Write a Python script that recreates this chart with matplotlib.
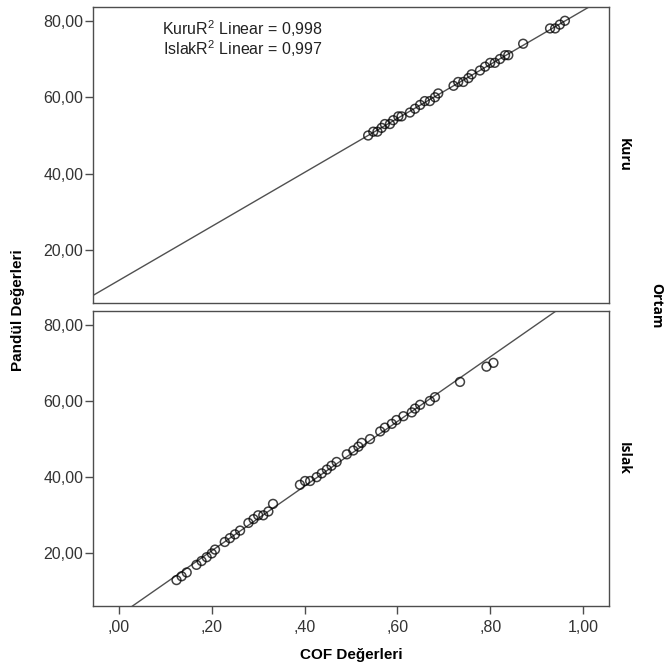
import matplotlib
matplotlib.use("Agg")
import matplotlib.pyplot as plt
import numpy as np

plt.rcParams['font.family'] = ['Liberation Sans', 'DejaVu Sans']
plt.rcParams['mathtext.fontset'] = 'custom'
plt.rcParams['mathtext.rm'] = 'Liberation Sans'
plt.rcParams['mathtext.it'] = 'Liberation Sans'

# Kuru (dry) measurements
kuru_cof = [0.537, 0.548, 0.557, 0.566, 0.573, 0.584, 0.591, 0.602, 0.609,
            0.627, 0.638, 0.649, 0.659, 0.670, 0.681, 0.688,
            0.721, 0.731, 0.742, 0.753, 0.760,
            0.778, 0.789, 0.800, 0.810, 0.821, 0.832, 0.839,
            0.871, 0.929, 0.940, 0.950, 0.961]
kuru_pandul = [50, 51, 51, 52, 53, 53, 54, 55, 55,
               56, 57, 58, 59, 59, 60, 61,
               63, 64, 64, 65, 66,
               67, 68, 69, 69, 70, 71, 71,
               74, 78, 78, 79, 80]

# Islak (wet) measurements
islak_cof = [0.124, 0.135, 0.146, 0.167, 0.178, 0.189, 0.200, 0.207,
             0.228, 0.239, 0.250, 0.261, 0.279, 0.290, 0.300, 0.311, 0.322, 0.332,
             0.390, 0.401, 0.412, 0.426, 0.437, 0.448, 0.458, 0.469, 0.491, 0.505, 0.516,
             0.523, 0.541, 0.563, 0.573, 0.588, 0.598, 0.613, 0.631, 0.638, 0.649,
             0.670, 0.681, 0.735, 0.792, 0.807]
islak_pandul = [13, 14, 15, 17, 18, 19, 20, 21,
                23, 24, 25, 26, 28, 29, 30, 30, 31, 33,
                38, 39, 39, 40, 41, 42, 43, 44, 46, 47, 48,
                49, 50, 52, 53, 54, 55, 56, 57, 58, 59,
                60, 61, 65, 69, 70]

panels = ['Kuru', 'Islak']
r2_labels = ['KuruR$^2$ Linear = 0,998', 'IslakR$^2$ Linear = 0,997']
xticks = [0.0, 0.2, 0.4, 0.6, 0.8, 1.0]
xticklabels = [',00', ',20', ',40', ',60', ',80', '1,00']
yticks = [20, 40, 60, 80]
yticklabels = ['20,00', '40,00', '60,00', '80,00']

XLIM = (-0.056, 1.056)
YLIM = (6.2, 83.6)
SPINE = '#4d4d4d'

fig = plt.figure(figsize=(6.66, 6.68), dpi=100)
ax_top = fig.add_axes([0.1396, 0.5464, 0.7748, 0.4431])
ax_bot = fig.add_axes([0.1396, 0.0928, 0.7748, 0.4416])

data = [(kuru_cof, kuru_pandul), (islak_cof, islak_pandul)]
for ax, (xs, ys), name in zip([ax_top, ax_bot], data, panels):
    xs = np.array(xs)
    ys = np.array(ys)
    coef = np.polyfit(xs, ys, 1)
    xl = np.array(XLIM)
    ax.plot(xl, np.polyval(coef, xl), color='#505050', lw=1.0, zorder=2)
    ax.scatter(xs, ys, s=40, facecolors='none', edgecolors='black',
               linewidths=1.1, alpha=0.75, zorder=3)
    ax.set_xlim(XLIM)
    ax.set_ylim(YLIM)
    ax.set_yticks(yticks)
    ax.set_yticklabels(yticklabels)
    for sp in ax.spines.values():
        sp.set_color(SPINE)
        sp.set_linewidth(1.0)
    ax.tick_params(axis='both', direction='out', length=6, width=1.0,
                   color=SPINE, labelsize=11.5, labelcolor='#333333', pad=1)
    ax.text(1.015, 0.5, name, transform=ax.transAxes, rotation=-90,
            ha='left', va='center', fontsize=10, fontweight='bold',
            family=['Open Sans', 'DejaVu Sans'])

ax_top.set_xticks([])
ax_bot.set_xticks(xticks)
ax_bot.set_xticklabels(xticklabels)
ax_bot.tick_params(axis='x', pad=4)

ax_top.text(0.29, 0.926, r2_labels[0], transform=ax_top.transAxes,
            ha='center', va='center', fontsize=11.5, color='#222222')
ax_top.text(0.29, 0.86, r2_labels[1], transform=ax_top.transAxes,
            ha='center', va='center', fontsize=11.5, color='#222222')

fig.text(0.027, 0.535, 'Pandül Değerleri', rotation=90, ha='center', va='center',
         fontsize=11, fontweight='bold')
fig.text(0.527, 0.019, 'COF Değerleri', ha='center', va='center',
         fontsize=11, fontweight='bold')
fig.text(0.985, 0.543, 'Ortam', rotation=-90, ha='center', va='center',
         fontsize=10, fontweight='bold', family=['Open Sans', 'DejaVu Sans'])

fig.savefig('out.png', dpi=100, facecolor='white')
plt.close(fig)
